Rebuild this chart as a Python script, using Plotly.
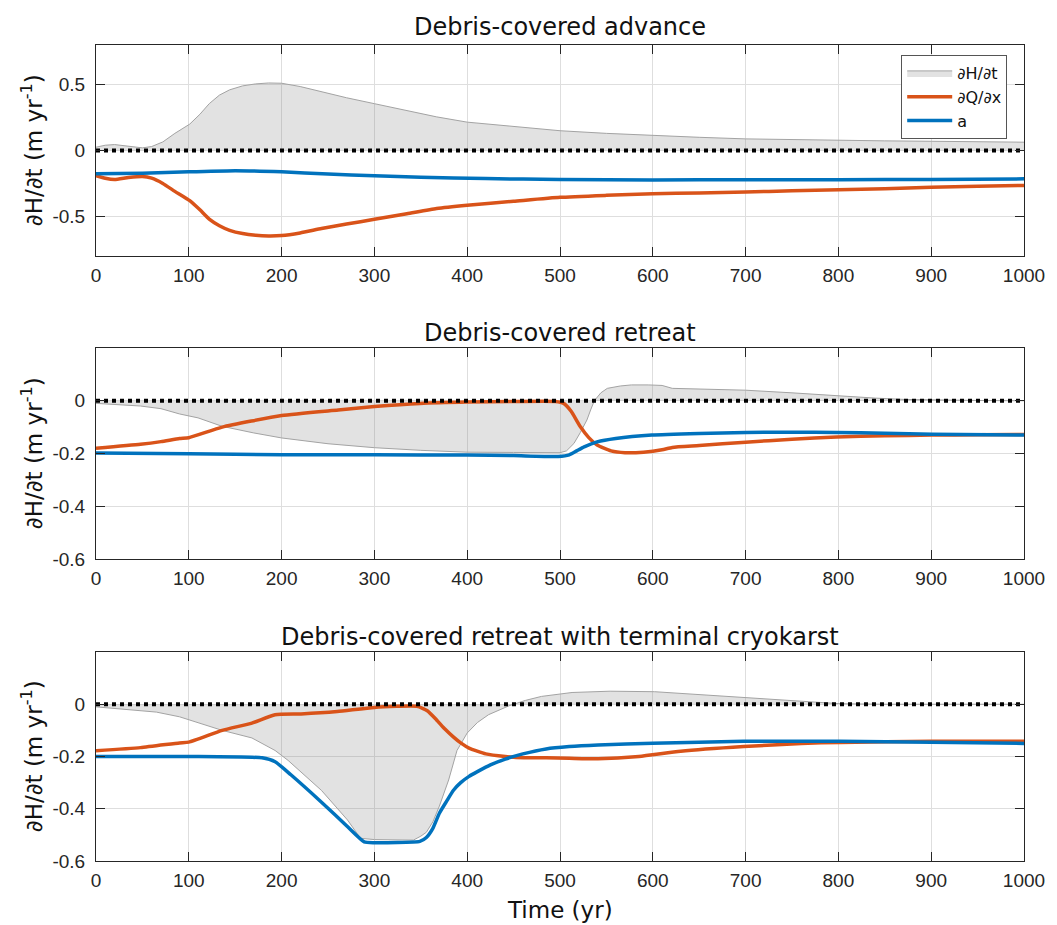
import plotly.graph_objects as go
from plotly.subplots import make_subplots

# ---------------- data ----------------
x_ticks = [0, 100, 200, 300, 400, 500, 600, 700, 800, 900, 1000]
zero_x = [0, 1000]
zero_y = [0, 0]

# Panel 1: Debris-covered advance
t_dh_adv = [0, 10, 20, 35, 50, 60, 72, 85, 101, 112, 122, 133, 144, 158, 172, 186, 200,
            220, 243, 270, 300, 335, 367, 400, 450, 500, 550, 600, 650, 700, 750, 800,
            850, 900, 950, 1000]
dh_adv = [0.025, 0.04, 0.045, 0.03, 0.02, 0.03, 0.065, 0.13, 0.2, 0.275, 0.355, 0.42,
          0.46, 0.49, 0.505, 0.512, 0.51, 0.485, 0.445, 0.4, 0.355, 0.3, 0.255, 0.215,
          0.18, 0.15, 0.13, 0.114, 0.1, 0.088, 0.082, 0.076, 0.073, 0.07, 0.066, 0.063]
t_dq_adv = t_dh_adv
dq_adv = [-0.19, -0.21, -0.22, -0.205, -0.197, -0.21, -0.25, -0.31, -0.38, -0.45, -0.52,
          -0.57, -0.605, -0.63, -0.643, -0.648, -0.645, -0.625, -0.592, -0.558, -0.522,
          -0.48, -0.44, -0.415, -0.385, -0.355, -0.34, -0.328, -0.322, -0.315, -0.305,
          -0.298, -0.29, -0.278, -0.272, -0.265]
t_a_adv = [0, 50, 100, 150, 200, 250, 300, 350, 420, 500, 600, 700, 800, 900, 1000]
a_adv = [-0.177, -0.172, -0.162, -0.153, -0.162, -0.178, -0.192, -0.203, -0.213, -0.22,
         -0.223, -0.222, -0.221, -0.219, -0.215]

# Panel 2: Debris-covered retreat
t_dh_ret = [0, 48, 70, 90, 110, 136, 170, 200, 250, 300, 350, 400, 450, 500, 507, 515,
            522, 529, 533, 537, 544, 551, 565, 577, 595, 610, 621, 650, 700, 750, 798,
            840, 871, 900, 950, 1000]
dh_ret = [-0.01, -0.02, -0.03, -0.05, -0.065, -0.097, -0.122, -0.141, -0.163, -0.178,
          -0.188, -0.195, -0.196, -0.197, -0.19, -0.162, -0.12, -0.073, -0.035, 0.0,
          0.03, 0.047, 0.056, 0.06, 0.06, 0.058, 0.047, 0.045, 0.04, 0.03, 0.018, 0.01,
          0.005, 0.003, 0.001, 0.0]
t_dq_ret = [0, 48, 70, 90, 100, 136, 200, 261, 300, 349, 400, 450, 495, 504, 512, 522,
            531, 540, 555, 570, 590, 610, 621, 650, 700, 750, 798, 850, 901, 950, 1000]
dq_ret = [-0.18, -0.165, -0.155, -0.143, -0.14, -0.1, -0.056, -0.035, -0.022, -0.01,
          -0.005, -0.003, -0.003, -0.01, -0.04, -0.099, -0.14, -0.168, -0.19, -0.197,
          -0.195, -0.186, -0.177, -0.17, -0.157, -0.146, -0.137, -0.133, -0.13, -0.129,
          -0.128]
t_a_ret = [0, 100, 200, 300, 400, 450, 498, 510, 518, 526, 540, 560, 599, 650, 700, 750,
           798, 850, 901, 1000]
a_ret = [-0.198, -0.201, -0.205, -0.205, -0.206, -0.208, -0.211, -0.205, -0.19, -0.175,
         -0.156, -0.143, -0.13, -0.124, -0.12, -0.119, -0.12, -0.123, -0.127, -0.13]

# Panel 3: Debris-covered retreat with terminal cryokarst
t_dh_cry = [0, 65, 90, 136, 168, 193, 207, 243, 271, 285, 300, 342, 350, 356, 363, 370,
            380, 389, 400, 411, 423, 435, 445, 463, 480, 513, 554, 602, 650, 698, 759,
            802, 850, 900, 1000]
dh_cry = [-0.01, -0.03, -0.048, -0.1, -0.129, -0.177, -0.215, -0.33, -0.443, -0.513,
          -0.518, -0.52, -0.505, -0.49, -0.45, -0.39, -0.29, -0.177, -0.11, -0.07,
          -0.04, -0.02, -0.006, 0.015, 0.03, 0.045, 0.05, 0.048, 0.037, 0.025, 0.01,
          0.002, 0.0, 0.0, 0.0]
t_dq_cry = [0, 48, 90, 100, 136, 168, 193, 221, 260, 300, 346, 357, 367, 376, 385, 393,
            402, 420, 441, 461, 485, 510, 541, 585, 630, 698, 760, 802, 900, 1000]
dq_cry = [-0.178, -0.166, -0.148, -0.145, -0.1, -0.072, -0.04, -0.037, -0.028, -0.012,
          -0.008, -0.025, -0.06, -0.095, -0.125, -0.148, -0.168, -0.19, -0.2, -0.205,
          -0.205, -0.207, -0.209, -0.2, -0.18, -0.162, -0.15, -0.146, -0.142, -0.142]
t_a_cry = [0, 100, 179, 193, 210, 243, 270, 289, 300, 349, 356, 363, 370, 378, 385, 393,
           402, 411, 425, 441, 460, 485, 510, 541, 600, 698, 802, 900, 1000]
a_cry = [-0.2, -0.2, -0.205, -0.22, -0.27, -0.375, -0.465, -0.527, -0.53, -0.525, -0.51,
         -0.475, -0.417, -0.37, -0.33, -0.3, -0.276, -0.258, -0.232, -0.21, -0.19,
         -0.171, -0.162, -0.156, -0.149, -0.142, -0.142, -0.145, -0.15]

titles = ["Debris-covered advance", "Debris-covered retreat",
          "Debris-covered retreat with terminal cryokarst"]
y_ranges = [[-0.8, 0.8], [-0.6, 0.2], [-0.6, 0.2]]
y_ticks = [[-0.5, 0, 0.5], [-0.6, -0.4, -0.2, 0], [-0.6, -0.4, -0.2, 0]]
y_ticktext = [["-0.5", "0", "0.5"], ["-0.6", "-0.4", "-0.2", "0"],
              ["-0.6", "-0.4", "-0.2", "0"]]
names = ["∂H/∂t", "∂Q/∂x", "a"]

# ---------------- style ----------------
ORANGE = "#D95319"
BLUE = "#0072BD"
FILL = "rgba(130,130,130,0.23)"
EDGE = "#a3a3a3"
AX = "#262626"
GRID = "#dedede"
TICKFONT = "Liberation Sans, Arial, Helvetica, sans-serif"
FONT = "DejaVu Sans, Liberation Sans, sans-serif"

W, H = 1057, 925
ML, MR, MT, MB = 96, 22, 45, 64
PW, PH = W - ML - MR, H - MT - MB

def py(p):
    return (H - MB - p) / PH

def px(p):
    return (p - ML) / PW

panel_px = [(45, 256), (348, 559), (652, 861)]
title_px = [27, 333, 637]

fig = make_subplots(rows=3, cols=1)

series = [
    (t_dh_adv, dh_adv, t_dq_adv, dq_adv, t_a_adv, a_adv),
    (t_dh_ret, dh_ret, t_dq_ret, dq_ret, t_a_ret, a_ret),
    (t_dh_cry, dh_cry, t_dq_cry, dq_cry, t_a_cry, a_cry),
]

for i, (tdh, dh, tdq, dq, ta, a) in enumerate(series, start=1):
    show = i == 1
    fig.add_trace(go.Scatter(x=tdh, y=dh, mode="lines", fill="tozeroy", fillcolor=FILL,
                             line=dict(color=EDGE, width=1), name=names[0],
                             legendgroup="dh", showlegend=show, hoverinfo="skip"),
                  row=i, col=1)
    fig.add_trace(go.Scatter(x=tdq, y=dq, mode="lines",
                             line=dict(color=ORANGE, width=3.5, shape="spline",
                                       smoothing=0.5),
                             name=names[1], legendgroup="dq", showlegend=show),
                  row=i, col=1)
    fig.add_trace(go.Scatter(x=ta, y=a, mode="lines",
                             line=dict(color=BLUE, width=3.5, shape="spline",
                                       smoothing=0.5),
                             name=names[2], legendgroup="a", showlegend=show),
                  row=i, col=1)
    fig.add_trace(go.Scatter(x=zero_x, y=zero_y, mode="lines",
                             line=dict(color="black", width=4, dash="dot"),
                             showlegend=False, hoverinfo="skip"), row=i, col=1)

    top, bot = panel_px[i - 1]
    fig.update_yaxes(domain=[py(bot), py(top)], range=y_ranges[i - 1],
                     tickvals=y_ticks[i - 1], ticktext=y_ticktext[i - 1],
                     ticks="inside", ticklen=9, tickcolor=AX, showline=True,
                     linecolor=AX, linewidth=1, mirror="ticks", showgrid=True,
                     gridcolor=GRID, zeroline=False, ticklabelstandoff=6,
                     tickfont=dict(size=19, color=AX, family=TICKFONT), row=i, col=1)
    fig.update_xaxes(domain=[0, 1], range=[0, 1000], tickvals=x_ticks,
                     ticks="inside", ticklen=9, tickcolor=AX, showline=True,
                     linecolor=AX, linewidth=1, mirror="ticks", showgrid=True,
                     gridcolor=GRID, zeroline=False, ticklabelstandoff=2,
                     tickfont=dict(size=19, color=AX, family=TICKFONT), row=i, col=1)

annotations = []
for i in range(3):
    top, bot = panel_px[i]
    annotations.append(dict(text=titles[i], x=0.5, y=py(title_px[i]), xref="paper",
                            yref="paper", xanchor="center", yanchor="middle",
                            showarrow=False, font=dict(size=24, color="#111", family=FONT)))
    annotations.append(dict(text="∂H/∂t (m yr<sup>-1</sup>)", x=px(31),
                            y=py((top + bot) / 2), xref="paper", yref="paper",
                            xanchor="center", yanchor="middle", textangle=-90,
                            showarrow=False, font=dict(size=23, color="#111", family=FONT)))
annotations.append(dict(text="Time (yr)", x=0.5, y=py(910), xref="paper", yref="paper",
                        xanchor="center", yanchor="middle", showarrow=False,
                        font=dict(size=23, color="#111", family=FONT)))

fig.update_layout(
    width=W, height=H,
    margin=dict(l=ML, r=MR, t=MT, b=MB),
    paper_bgcolor="white", plot_bgcolor="white",
    font=dict(family=FONT, color=AX),
    annotations=annotations,
    showlegend=True,
    legend=dict(x=px(1018), y=py(55), xanchor="right", yanchor="top",
                bgcolor="white", bordercolor="#555", borderwidth=1,
                font=dict(size=16, color="#111", family=FONT),
                tracegroupgap=0, itemwidth=45),
)

fig.write_html("out.html")
